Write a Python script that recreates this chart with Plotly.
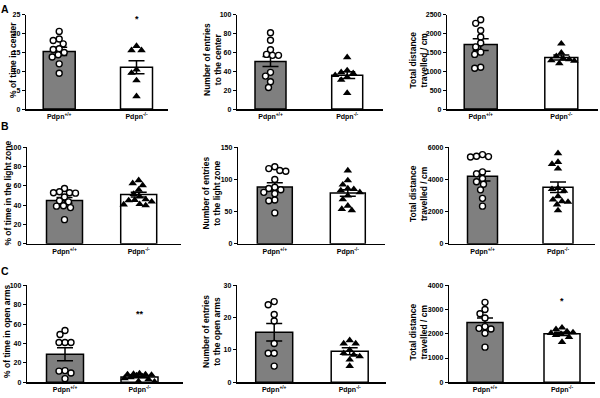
import plotly.graph_objects as go

W, H = 600, 398
groups = ["Pdpn<sup>+/+</sup>", "Pdpn<sup>-/-</sup>"]

# ---------------- data ----------------
# A: open field
center_time_wt = [20.6, 18.6, 18.2, 17.3, 16.0, 15.8, 15.0, 14.4, 13.8, 12.0, 9.5]
center_time_ko = [16.7, 15.6, 15.6, 10.5, 9.6, 7.6, 3.4]
center_time_mean = [15.3, 11.1]
center_time_sem = [1.1, 1.7]

center_entries_wt = [81, 73, 63, 58, 57, 57, 39, 35, 29, 23]
center_entries_ko = [55, 41, 39, 38, 36, 34, 31, 17]
center_entries_mean = [50.5, 36]
center_entries_sem = [5.2, 3.5]

center_dist_wt = [2370, 2274, 2083, 1910, 1753, 1649, 1510, 1450, 1111, 1085]
center_dist_ko = [1736, 1493, 1400, 1340, 1320, 1290, 1280, 1215]
center_dist_mean = [1710, 1370]
center_dist_sem = [155, 65]

# B: light/dark box
light_time_wt = [57.3, 53.9, 53, 53, 52.5, 48.5, 44.5, 43.5, 39.5, 39, 37.5, 25]
light_time_ko = [65.8, 62.7, 60.7, 56, 51.5, 49, 46, 45.4, 45, 43.7, 41, 40.7, 39.7]
light_time_mean = [45, 51]
light_time_sem = [3, 2.5]

light_entries_wt = [120, 117, 114, 113, 100, 88, 86, 84, 80, 78, 68, 67, 48]
light_entries_ko = [114, 98.5, 92, 86, 85, 83, 80, 75, 69, 59, 54, 52]
light_entries_mean = [88.5, 79]
light_entries_sem = [6.5, 5]

light_dist_wt = [5553, 5450, 5400, 5430, 4475, 4353, 4068, 3865, 3702, 3356, 2827, 2339]
light_dist_ko = [5634, 5085, 4963, 4678, 3460, 3400, 3300, 2950, 2746, 2644, 2600, 2440, 2075]
light_dist_mean = [4210, 3520]
light_dist_sem = [300, 330]

# C: elevated plus maze
open_time_wt = [53.4, 49.3, 41, 41, 41, 12, 11.5, 9.5, 3.7]
open_time_ko = [9, 8.5, 8, 8, 7.5, 7, 6, 5, 4, 3, 1, 0.5]
open_time_mean = [29, 5.5]
open_time_sem = [6.7, 1.0]

open_entries_wt = [25, 24, 21, 19, 12, 9, 9, 5]
open_entries_ko = [13, 12, 12, 10, 9, 8.5, 8, 7, 5]
open_entries_mean = [15.5, 9.6]
open_entries_sem = [2.7, 1.1]

open_dist_wt = [3301, 3006, 2832, 2657, 2300, 2228, 2200, 2027, 1450]
open_dist_ko = [2255, 2187, 2100, 2060, 2030, 1990, 1950, 1866, 1660]
open_dist_mean = [2470, 2000]
open_dist_sem = [185, 65]

y_titles = [
    "% of time in center", "Number of entries<br>to the center", "Total distance<br>travelled / cm",
    "% of time in the light zone", "Number of entries<br>to the light zone", "Total distance<br>travelled / cm",
    "% of time in open arms", "Number of entries<br>to the open arms", "Total distance<br>travelled / cm",
]
y_max = [25, 100, 2500, 100, 150, 6000, 100, 30, 4000]
y_step = [5, 20, 500, 20, 50, 2000, 20, 10, 1000]
star_text = {0: "*", 6: "**", 8: "*"}
star_y = {0: 24, 6: 71, 8: 3370}

panels = [
    (center_time_wt, center_time_ko, center_time_mean, center_time_sem),
    (center_entries_wt, center_entries_ko, center_entries_mean, center_entries_sem),
    (center_dist_wt, center_dist_ko, center_dist_mean, center_dist_sem),
    (light_time_wt, light_time_ko, light_time_mean, light_time_sem),
    (light_entries_wt, light_entries_ko, light_entries_mean, light_entries_sem),
    (light_dist_wt, light_dist_ko, light_dist_mean, light_dist_sem),
    (open_time_wt, open_time_ko, open_time_mean, open_time_sem),
    (open_entries_wt, open_entries_ko, open_entries_mean, open_entries_sem),
    (open_dist_wt, open_dist_ko, open_dist_mean, open_dist_sem),
]

# ---------------- layout geometry (pixels) ----------------
# x: y-axis px, x-axis end px, centre of bar0 px, centre of bar1 px, bar width px
geom_x = [
    (26, 168, 59.2, 136.5, 32), (237, 383, 270.5, 347.2, 31), (447, 598, 480.7, 561.3, 33),
    (27, 181, 64.5, 138.7, 36), (238, 385, 274.8, 347.8, 35), (449, 595, 482.5, 558.0, 30),
    (27, 183, 65.0, 139.5, 37), (237, 386, 274.2, 349.7, 37), (449, 595, 485.0, 562.0, 36),
]
geom_y = [(11, 107), (146, 244), (286.5, 385)]
title_x = [13, 213, 418.5, 8, 212, 418.5, 7, 212, 418.5]


def swarm(vals, ppu_y, diam, maxoff):
    """Simple beeswarm: returns x offsets in px."""
    order = sorted(range(len(vals)), key=lambda i: -vals[i])
    cands = sorted(range(-maxoff, maxoff + 1), key=lambda v: (abs(v), v))
    placed = []
    offs = [0.0] * len(vals)
    for i in order:
        y = vals[i] * ppu_y
        best, bestd = 0, -1
        for c in cands:
            d = min([((c - px) ** 2 + (y - py) ** 2) ** 0.5 for px, py in placed] or [1e9])
            if d >= diam:
                best = c
                break
            if d > bestd:
                best, bestd = c, d
        offs[i] = best
        placed.append((best, y))
    return offs


fig = go.Figure()
font = "Liberation Sans, Arial, sans-serif"
annotations = []

for k, (wt, ko, mean, sem) in enumerate(panels):
    row = k // 3
    n = k + 1
    xa = "x" if n == 1 else f"x{n}"
    ya = "y" if n == 1 else f"y{n}"
    xl, xr, c0, c1, bw = geom_x[k]
    yt, yb = geom_y[row]
    unit = c1 - c0
    xrange = [-(c0 - xl) / unit, 1 + (xr - c1) / unit]
    ppu_y = (yb - yt) / y_max[k]
    lim = int(bw / 2 - 3)

    fig.add_trace(go.Bar(
        x=[0, 1], y=mean, width=[bw / unit] * 2,
        marker=dict(color=["#7f7f7f", "#ffffff"], line=dict(color="black", width=1.5)),
        error_y=dict(type="data", array=sem, visible=True, color="black", thickness=1.5, width=8),
        xaxis=xa, yaxis=ya, showlegend=False, hoverinfo="skip",
    ))
    ow = swarm(wt, ppu_y, 6.0, lim)
    ok_ = swarm(ko, ppu_y, 6.0, lim)
    fig.add_trace(go.Scatter(
        x=[0 + o / unit for o in ow], y=wt, mode="markers",
        marker=dict(symbol="circle", size=6, color="white", line=dict(color="black", width=1.4)),
        xaxis=xa, yaxis=ya, showlegend=False, cliponaxis=False, hoverinfo="skip",
    ))
    fig.add_trace(go.Scatter(
        x=[1 + o / unit for o in ok_], y=ko, mode="markers",
        marker=dict(symbol="triangle-up", size=7.5, color="black", line=dict(width=0)),
        xaxis=xa, yaxis=ya, showlegend=False, cliponaxis=False, hoverinfo="skip",
    ))

    xkey = "xaxis" if n == 1 else f"xaxis{n}"
    ykey = "yaxis" if n == 1 else f"yaxis{n}"
    fig.update_layout(**{
        xkey: dict(domain=[xl / W, xr / W], range=xrange, anchor=ya,
                   tickvals=[0, 1], ticktext=groups, ticks="", showgrid=False, zeroline=False,
                   showline=True, linecolor="black", linewidth=1.5,
                   tickfont=dict(family=font, size=7, color="black", weight="bold")),
        ykey: dict(domain=[1 - yb / H, 1 - yt / H], range=[0, y_max[k]], anchor=xa,
                   tickmode="linear", tick0=0, dtick=y_step[k], ticks="outside", ticklen=3,
                   tickwidth=1, tickcolor="black", showgrid=False, zeroline=False,
                   showline=True, linecolor="black", linewidth=1.2,
                   tickfont=dict(family=font, size=7, color="black", weight="bold")),
    })
    annotations.append(dict(
        text=y_titles[k], xref="paper", yref="paper", x=title_x[k] / W,
        y=1 - ((yt + yb) / 2 - 2) / H, textangle=-90, showarrow=False,
        xanchor="center", yanchor="middle",
        font=dict(family=font, size=8.5, color="black", weight="bold"),
    ))
    if k in star_text:
        annotations.append(dict(
            text=star_text[k], xref=xa, yref=ya, x=1, y=star_y[k], showarrow=False,
            font=dict(family=font, size=9, color="black", weight="bold"),
        ))

for letter, yy in [("A", 5), ("B", 124), ("C", 272)]:
    annotations.append(dict(
        text=letter, xref="paper", yref="paper", x=4.5 / W, y=1 - yy / H, showarrow=False,
        xanchor="center", yanchor="middle",
        font=dict(family=font, size=10.5, color="black", weight="bold"),
    ))

fig.update_layout(
    width=W, height=H, margin=dict(l=0, r=0, t=0, b=0),
    plot_bgcolor="white", paper_bgcolor="white", showlegend=False,
    annotations=annotations, bargap=0, hovermode=False,
)

fig.write_html("out.html", config={"displayModeBar": False, "staticPlot": True},
               post_script="document.body.style.margin='0px';document.body.style.padding='0px';")
